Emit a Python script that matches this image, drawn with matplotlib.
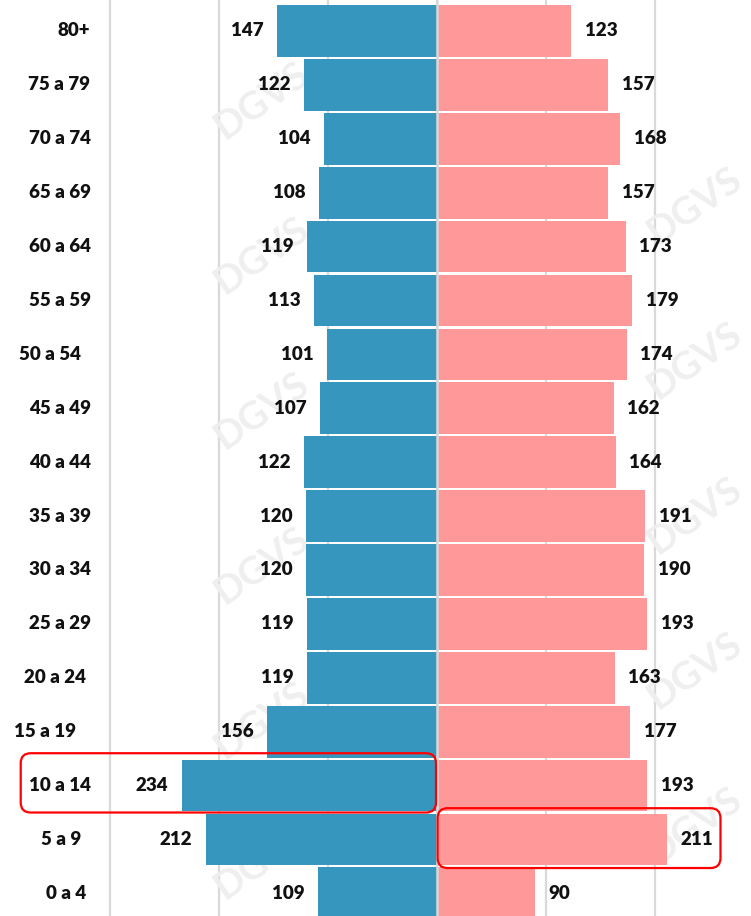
import matplotlib
matplotlib.use("Agg")
import matplotlib.pyplot as plt
from matplotlib.patches import FancyBboxPatch

# ---- data ----
age_groups = ["80+", "75 a 79", "70 a 74", "65 a 69", "60 a 64", "55 a 59",
              "50 a 54", "45 a 49", "40 a 44", "35 a 39", "30 a 34", "25 a 29",
              "20 a 24", "15 a 19", "10 a 14", "5 a 9", "0 a 4"]
hombres = [147, 122, 104, 108, 119, 113, 101, 107, 122, 120, 120, 119, 119, 156, 234, 212, 109]
mujeres = [123, 157, 168, 157, 173, 179, 174, 162, 164, 191, 190, 193, 163, 177, 193, 211, 90]
grid_ticks = [-300, -200, -100, 0, 100, 200]
highlight_left = "10 a 14"
highlight_right = "5 a 9"

# ---- style ----
W, H, DPI = 751, 916, 100
BLUE = "#3796BE"
PINK = "#FF9999"
GRID = "#d9d9d9"
TXT = "#111111"
FONT = ["Lato", "DejaVu Sans"]
FS = 13.5
WEIGHT = "heavy"
# right edge (pixels) of each age label, as in the reference
label_right_px = [90, 90, 91, 91, 91, 91, 81, 91, 91, 91, 91, 91, 86, 76, 91, 81, 86]

fig = plt.figure(figsize=(W / DPI, H / DPI), dpi=DPI)
ax = fig.add_axes([0, 0, 1, 1])
ax.set_xlim(-401, 288)
ax.set_ylim(16.42, -0.575)
for s in ax.spines.values():
    s.set_visible(False)
ax.set_xticks(grid_ticks)
ax.set_yticks([])
ax.tick_params(length=0, labelbottom=False)
ax.grid(axis="x", color=GRID, lw=1.6, zorder=0)
ax.set_axisbelow(True)

# faint watermarks (behind the bars)
wm_pos = [(262, 100), (262, 255), (262, 410), (262, 565), (262, 720), (262, 860),
          (695, 205), (695, 360), (695, 515), (695, 670), (695, 825)]
for (px, py) in wm_pos:
    ax.text(px / W, 1 - py / H, "DGVS", rotation=35, fontsize=28, fontweight="bold",
            color="#efefef", ha="center", va="center", family=FONT, zorder=0.8,
            transform=ax.transAxes)

ypos = list(range(len(age_groups)))
ax.barh(ypos, [-v for v in hombres], height=0.96, color=BLUE, lw=0, zorder=2)
ax.barh(ypos, mujeres, height=0.96, color=PINK, lw=0, zorder=2)
ax.axvline(0, color=GRID, lw=1.8, zorder=3)

off_pt = 13.5 * 72 / DPI
for y, m, f in zip(ypos, hombres, mujeres):
    ax.annotate(str(m), (-m, y), xytext=(-off_pt, 0), textcoords="offset points",
                ha="right", va="center", fontsize=FS, fontweight=WEIGHT,
                color=TXT, family=FONT, zorder=5)
    ax.annotate(str(f), (f, y), xytext=(off_pt, 0), textcoords="offset points",
                ha="left", va="center", fontsize=FS, fontweight=WEIGHT,
                color=TXT, family=FONT, zorder=5)

# age labels
for y, lab, rpx in zip(ypos, age_groups, label_right_px):
    ax.text(rpx / W, y, lab, transform=ax.get_yaxis_transform(), ha="right",
            va="center", fontsize=FS, fontweight=WEIGHT, color=TXT, family=FONT,
            zorder=5)

# red highlight boxes
fig.canvas.draw()
def rbox(x0, x1, y0, y1):
    (dx0, dy0) = ax.transData.transform((x0, y0))
    (dx1, dy1) = ax.transData.transform((x1, y1))
    lx, rx = min(dx0, dx1) / DPI, max(dx0, dx1) / DPI
    by, ty = min(dy0, dy1) / DPI, max(dy0, dy1) / DPI
    p = FancyBboxPatch((lx, by), rx - lx, ty - by,
                       boxstyle="round,pad=0,rounding_size=0.1",
                       transform=fig.dpi_scale_trans, fill=False,
                       edgecolor="#FF0000", lw=1.6, zorder=6)
    fig.add_artist(p)

iL = age_groups.index(highlight_left)
iR = age_groups.index(highlight_right)
rbox(-382, -1, iL - 0.6, iL + 0.5)
rbox(0.5, 260, iR - 0.58, iR + 0.53)

fig.savefig("out.png", dpi=DPI, facecolor="white")
